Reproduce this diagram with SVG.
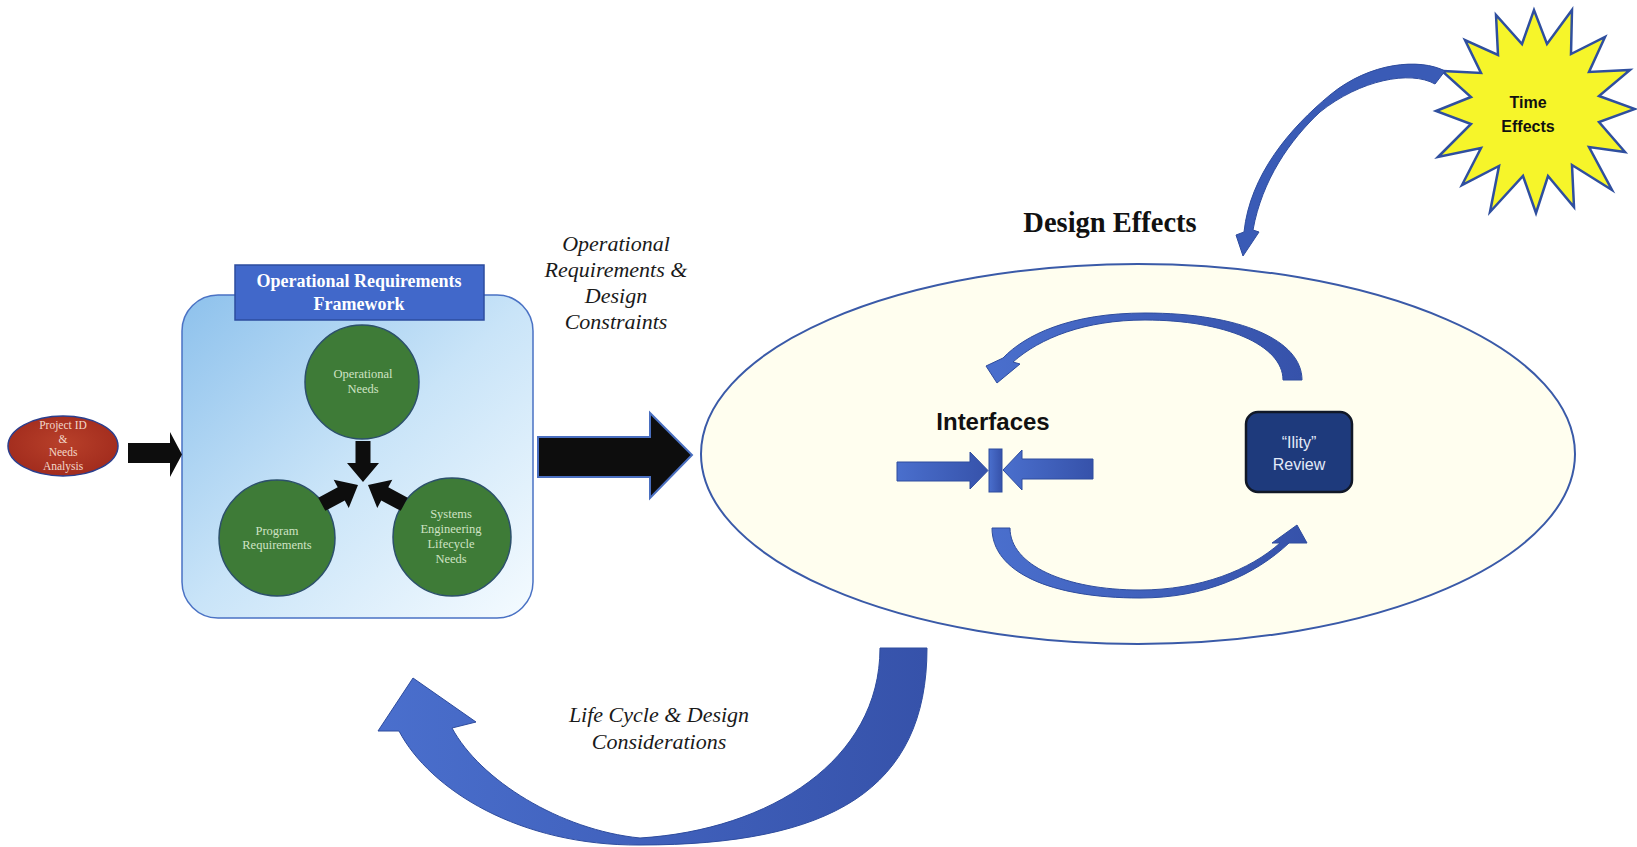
<svg xmlns="http://www.w3.org/2000/svg" width="1637" height="847" viewBox="0 0 1637 847">
<defs>
  <linearGradient id="fwGrad" x1="0" y1="0" x2="1" y2="1">
    <stop offset="0" stop-color="#8DC1EC"/>
    <stop offset="0.5" stop-color="#C9E4F8"/>
    <stop offset="1" stop-color="#F5FBFF"/>
  </linearGradient>
  <linearGradient id="blueArrow" x1="0" y1="0" x2="1" y2="0">
    <stop offset="0" stop-color="#4A6FCD"/>
    <stop offset="1" stop-color="#3652AA"/>
  </linearGradient>
  <radialGradient id="redGrad" cx="0.5" cy="0.45" r="0.6">
    <stop offset="0" stop-color="#B8402A"/>
    <stop offset="1" stop-color="#A02A1C"/>
  </radialGradient>
  <path id="innerArrow" d="M -41 -7.5 L -19 -7.5 L -19 -16 L 0 0 L -19 16 L -19 7.5 L -41 7.5 Z"/>
</defs>
<style>
  .serif { font-family: "Liberation Serif", "Times New Roman", serif; }
  .sans { font-family: "Liberation Sans", Arial, sans-serif; }
  .circ { fill: #3E7B37; stroke: #2C506A; stroke-width: 1.5; }
  .circText { font-family: "Liberation Serif", "Times New Roman", serif; font-size: 12.5px; fill: #CFE3C4; text-anchor: middle; }
  .ital { font-family: "Liberation Serif", "Times New Roman", serif; font-style: italic; font-size: 22px; fill: #1A1A1A; text-anchor: middle; }
  .blueFill { fill: url(#blueArrow); stroke: #2E4C9E; stroke-width: 1; }
  .black { fill: #0D0D0D; }
</style>
<rect width="1637" height="847" fill="#FFFFFF"/>

<g id="design-effects-ellipse">
  <ellipse cx="1138" cy="454" rx="437" ry="190" fill="#FFFEEF" stroke="#3A5AA8" stroke-width="2"/>
</g>

<g id="project-id">
  <ellipse cx="63" cy="446" rx="55" ry="30" fill="url(#redGrad)" stroke="#2B3F8E" stroke-width="1.5"/>
  <g class="serif" font-size="11.5" fill="#F2D8CA" text-anchor="middle">
    <text x="63" y="429">Project ID</text>
    <text x="63" y="443">&amp;</text>
    <text x="63" y="456">Needs</text>
    <text x="63" y="470">Analysis</text>
  </g>
</g>

<g id="framework">
  <rect x="182" y="295" width="351" height="323" rx="36" fill="url(#fwGrad)" stroke="#4A72C4" stroke-width="1.5"/>
  <rect x="235" y="265" width="249" height="55" fill="#4168CA" stroke="#2D4C9F" stroke-width="1.5"/>
  <g class="serif" font-size="18" font-weight="bold" fill="#FFFFFF" text-anchor="middle">
    <text x="359" y="287">Operational Requirements</text>
    <text x="359" y="310">Framework</text>
  </g>
</g>

<g id="operational-needs">
  <circle class="circ" cx="362" cy="382" r="57"/>
  <text class="circText" x="363" y="378">Operational</text>
  <text class="circText" x="363" y="393">Needs</text>
</g>

<g id="program-requirements">
  <circle class="circ" cx="277" cy="538" r="58"/>
  <text class="circText" x="277" y="535">Program</text>
  <text class="circText" x="277" y="549">Requirements</text>
</g>

<g id="systems-engineering">
  <circle class="circ" cx="452" cy="537" r="59"/>
  <text class="circText" x="451" y="518">Systems</text>
  <text class="circText" x="451" y="533">Engineering</text>
  <text class="circText" x="451" y="548">Lifecycle</text>
  <text class="circText" x="451" y="563">Needs</text>
</g>

<g id="interfaces">
  <text class="sans" x="993" y="430" font-size="24" font-weight="bold" fill="#111111" text-anchor="middle">Interfaces</text>
  <path class="blueFill" d="M 897 462 L 970 462 L 970 452 L 988 470.5 L 970 489 L 970 481 L 897 481 Z"/>
  <rect class="blueFill" x="989" y="449" width="13" height="43"/>
  <path class="blueFill" d="M 1093 459 L 1022 459 L 1022 450 L 1003 470 L 1022 490 L 1022 479 L 1093 479 Z"/>
</g>

<g id="ility-review">
  <rect x="1246" y="412" width="106" height="80" rx="12" fill="#1E3A7C" stroke="#111827" stroke-width="2.5"/>
  <g class="sans" font-size="16" fill="#E3EAF8" text-anchor="middle">
    <text x="1299" y="448">“Ility”</text>
    <text x="1299" y="470">Review</text>
  </g>
</g>

<g id="time-effects">
  <polygon fill="#F6F52A" stroke="#2F4F9F" stroke-width="2.5" stroke-linejoin="miter"
    points="1572,10 1571,54 1605,37 1589,72 1630,70 1599,96 1635,109 1599,122 1625,152 1589,147 1612,190 1572,165 1574,207 1548,176 1536,213 1523,176 1490,212 1499,166 1462,185 1481,148 1438,157 1471,124 1436,111 1471,97 1442,71 1481,73 1465,40 1498,55 1496,15 1522,44 1534,10 1547,44"/>
  <g class="sans" font-size="16" font-weight="bold" fill="#111111" text-anchor="middle">
    <text x="1528" y="108">Time</text>
    <text x="1528" y="132">Effects</text>
  </g>
</g>

<g id="labels">
  <text class="ital" x="616" y="251">Operational</text>
  <text class="ital" x="616" y="277">Requirements &amp;</text>
  <text class="ital" x="616" y="303">Design</text>
  <text class="ital" x="616" y="329">Constraints</text>
  <text class="serif" x="1110" y="232" font-size="28.5" font-weight="bold" fill="#111111" text-anchor="middle">Design Effects</text>
  <text class="ital" x="659" y="722" font-size="23">Life Cycle &amp; Design</text>
  <text class="ital" x="659" y="749" font-size="23">Considerations</text>
</g>

<g id="connectors">
  <path class="black" d="M 128 443 L 170 443 L 170 432 L 182 454.5 L 170 477 L 170 463 L 128 463 Z"/>
  <use href="#innerArrow" class="black" transform="translate(363 482) rotate(90)"/>
  <use href="#innerArrow" class="black" transform="translate(358 485) rotate(-28)"/>
  <use href="#innerArrow" class="black" transform="translate(368 485) rotate(-152)"/>
  <path d="M 538 437 L 650 437 L 650 413 L 692 455 L 650 498 L 650 477 L 538 477 Z" fill="#0D0D0D" stroke="#4A6FC0" stroke-width="2"/>
  <path d="M 1445 71 C 1420 58, 1370 62, 1330 95 C 1290 128, 1250 175, 1244 232 L 1236 235 L 1243 256 L 1259 232 L 1253 230 C 1262 180, 1290 140, 1320 112 C 1360 80, 1410 70, 1435 84 Z" fill="#3A5BB6" stroke="#2E4C9E" stroke-width="1"/>
  <path class="blueFill" d="M 1302 380 C 1302 340, 1240 313, 1145 313 C 1070 313, 1025 335, 1003 358 L 986 366 L 997 383 L 1020 364 L 1013 362 C 1040 338, 1085 320, 1145 320 C 1225 320, 1283 345, 1283 380 Z"/>
  <path class="blueFill" d="M 992 528 C 992 572, 1050 598, 1140 598 C 1205 598, 1255 575, 1289 543 L 1307 543 L 1297 525 L 1272 543 L 1280 543 C 1250 570, 1200 590, 1140 590 C 1065 590, 1010 565, 1010 528 Z"/>
  <path class="blueFill" d="M 927 648 C 927 790, 830 845, 640 845 C 520 846, 430 790, 399 731 L 378 731 L 413 678 L 476 722 L 452 728 C 480 780, 560 830, 640 838 C 770 830, 880 760, 880 648 Z"/>
</g>
</svg>
